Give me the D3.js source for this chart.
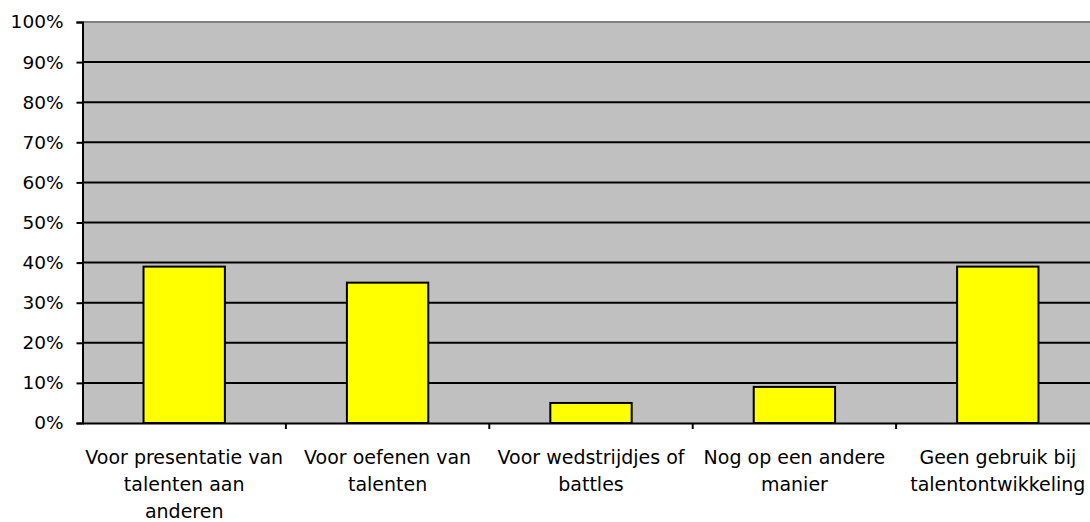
<!DOCTYPE html>
<html>
<head>
<meta charset="utf-8">
<script src="https://cdn.jsdelivr.net/npm/d3@7"></script>
<style>
  body { margin: 0; background: #fff; }
  text { font-family: "DejaVu Sans", sans-serif; font-size: 19px; fill: #000; }
</style>
</head>
<body>
<script>
const categories = [
  "Voor presentatie van talenten aan anderen",
  "Voor oefenen van talenten",
  "Voor wedstrijdjes of battles",
  "Nog op een andere manier",
  "Geen gebruik bij talentontwikkeling"
]
// label lines as wrapped in the picture
const labelLines = [
  ["Voor presentatie van", "talenten aan", "anderen"],
  ["Voor oefenen van", "talenten"],
  ["Voor wedstrijdjes of", "battles"],
  ["Nog op een andere", "manier"],
  ["Geen gebruik bij", "talentontwikkeling"]
]
const values = [0.39, 0.35, 0.05, 0.09, 0.39]
const yTicks = [0, 0.1, 0.2, 0.3, 0.4, 0.5, 0.6, 0.7, 0.8, 0.9, 1]

const width = 1090, height = 522
const plotLeft = 82.5, plotTop = 22, plotBottom = 423
const plotRight = plotLeft + 5 * 203.4

const svg = d3.select("body").append("svg")
  .attr("width", width)
  .attr("height", height)

const x = d3.scaleBand()
  .domain(categories)
  .range([plotLeft, plotRight])
  .paddingInner(0)
  .paddingOuter(0)

const y = d3.scaleLinear()
  .domain([0, 1])
  .range([plotBottom, plotTop])

// plot background
svg.append("rect")
  .attr("x", plotLeft).attr("y", plotTop)
  .attr("width", plotRight - plotLeft).attr("height", plotBottom - plotTop)
  .attr("fill", "#c0c0c0")

// top border
svg.append("line")
  .attr("x1", plotLeft).attr("x2", plotRight)
  .attr("y1", plotTop).attr("y2", plotTop)
  .attr("stroke", "#808080").attr("stroke-width", 2)

// gridlines
svg.selectAll(".grid")
  .data(yTicks.filter(d => d > 0 && d < 1))
  .enter().append("line")
  .attr("class", "grid")
  .attr("x1", plotLeft).attr("x2", plotRight)
  .attr("y1", d => y(d)).attr("y2", d => y(d))
  .attr("stroke", "#000").attr("stroke-width", 2)

// bars
const barW = x.bandwidth() * 0.4
svg.selectAll(".bar")
  .data(values)
  .enter().append("rect")
  .attr("class", "bar")
  .attr("x", (d, i) => x(categories[i]) + (x.bandwidth() - barW) / 2)
  .attr("y", d => y(d))
  .attr("width", barW)
  .attr("height", d => plotBottom - y(d))
  .attr("fill", "#ffff00")
  .attr("stroke", "#000")
  .attr("stroke-width", 2)

// y axis
const yAxis = svg.append("g")
  .attr("transform", `translate(${plotLeft},0)`)
  .call(d3.axisLeft(y).tickValues(yTicks).tickFormat(d3.format(".0%")).tickSize(6).tickPadding(13))
yAxis.select(".domain").attr("stroke", "#000").attr("stroke-width", 2)
yAxis.selectAll(".tick line").attr("stroke", "#000").attr("stroke-width", 2)
yAxis.selectAll("text").style("font-size", "18.5px").style("font-family", "DejaVu Sans, sans-serif")

// x axis
const xAxis = svg.append("g")
  .attr("transform", `translate(0,${plotBottom})`)
  .call(d3.axisBottom(x).tickSize(0).tickFormat(""))
xAxis.select(".domain").attr("stroke", "#000").attr("stroke-width", 2)

// category separator ticks
svg.selectAll(".xtick")
  .data(categories.slice(1))
  .enter().append("line")
  .attr("class", "xtick")
  .attr("x1", d => x(d)).attr("x2", d => x(d))
  .attr("y1", plotBottom).attr("y2", plotBottom + 6)
  .attr("stroke", "#000").attr("stroke-width", 2)

// labels
const lbl = svg.selectAll(".xlabel")
  .data(categories)
  .enter().append("text")
  .attr("class", "xlabel")
  .attr("text-anchor", "middle")
  .attr("transform", d => `translate(${x(d) + x.bandwidth() / 2},${plotBottom + 41})`)

lbl.selectAll("tspan")
  .data((d, i) => labelLines[i])
  .enter().append("tspan")
  .attr("x", 0)
  .attr("dy", (d, i) => i === 0 ? 0 : 27)
  .text(d => d)
</script>
</body>
</html>
